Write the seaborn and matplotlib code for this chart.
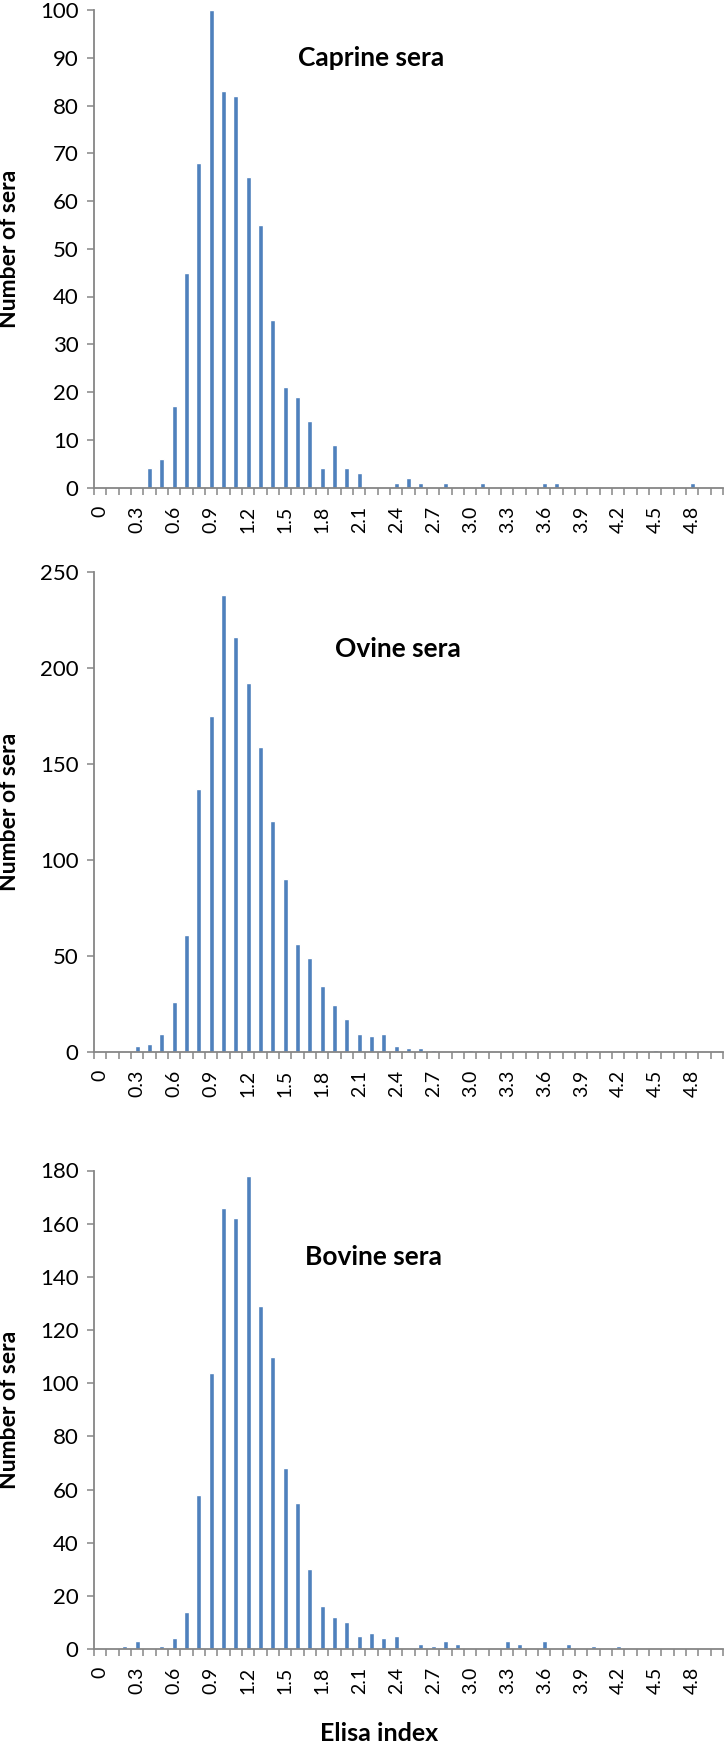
import numpy as np
import pandas as pd
import matplotlib.pyplot as plt
import seaborn as sns

# ELISA index classes (0.0 .. 5.0 step 0.1)
elisa_index = [0.0, 0.1, 0.2, 0.3, 0.4, 0.5, 0.6, 0.7, 0.8, 0.9,
               1.0, 1.1, 1.2, 1.3, 1.4, 1.5, 1.6, 1.7, 1.8, 1.9,
               2.0, 2.1, 2.2, 2.3, 2.4, 2.5, 2.6, 2.7, 2.8, 2.9,
               3.0, 3.1, 3.2, 3.3, 3.4, 3.5, 3.6, 3.7, 3.8, 3.9,
               4.0, 4.1, 4.2, 4.3, 4.4, 4.5, 4.6, 4.7, 4.8, 4.9,
               5.0]

caprine = [0, 0, 0, 0, 4, 6, 17, 45, 68, 100,
           83, 82, 65, 55, 35, 21, 19, 14, 4, 9,
           4, 3, 0, 0, 1, 2, 1, 0, 1, 0,
           0, 1, 0, 0, 0, 0, 1, 1, 0, 0,
           0, 0, 0, 0, 0, 0, 0, 0, 1, 0,
           0]

ovine = [0, 0, 0, 3, 4, 9, 26, 61, 137, 175,
         238, 216, 192, 159, 120, 90, 56, 49, 34, 24,
         17, 9, 8, 9, 3, 2, 2, 1, 0, 0,
         1, 0, 0, 0, 0, 0, 0, 0, 0, 0,
         0, 0, 0, 0, 0, 1, 0, 0, 0, 0,
         0]

bovine = [0, 0, 1, 3, 0, 1, 4, 14, 58, 104,
          166, 162, 178, 129, 110, 68, 55, 30, 16, 12,
          10, 5, 6, 4, 5, 0, 2, 1, 3, 2,
          0, 0, 0, 3, 2, 0, 3, 0, 2, 0,
          1, 0, 1, 0, 0, 0, 0, 0, 0, 0,
          0]

tick_labels = ["0", "0.3", "0.6", "0.9", "1.2", "1.5", "1.8", "2.1", "2.4",
               "2.7", "3.0", "3.3", "3.6", "3.9", "4.2", "4.5", "4.8"]

panels = [
    ("Caprine sera", caprine, 100, 10, (0.324, 0.90)),
    ("Ovine sera", ovine, 250, 50, (0.383, 0.839)),
    ("Bovine sera", bovine, 180, 20, (0.335, 0.82)),
]

sns.set_style("ticks")
plt.rcParams['font.family'] = ['Lato', 'DejaVu Sans']

W, H = 724, 1746
fig = plt.figure(figsize=(W / 100, H / 100), dpi=100)

# axes boxes in pixels: (top, bottom)
boxes = [(10, 487.5), (572, 1051.5), (1170.5, 1649)]
left_px, right_px = 94, 723

axis_color = "#868686"
bar_color = "#4F81BD"

for (title, counts, ymax, ystep, tpos), (top, bot) in zip(panels, boxes):
    ax = fig.add_axes([left_px / W, 1 - bot / H, (right_px - left_px) / W, (bot - top) / H])
    df = pd.DataFrame({"Elisa index": [f"{v:.1f}" for v in elisa_index], "count": counts})
    sns.barplot(data=df, x="Elisa index", y="count", color=bar_color,
                width=0.4, saturation=1, ax=ax)

    ax.set_xlim(-0.5, len(elisa_index) - 0.5)
    ax.set_ylim(0, ymax)
    ax.set_yticks(np.arange(0, ymax + 1, ystep))
    ax.tick_params(axis="y", labelsize=16, labelcolor="black", length=5, width=1.1,
                   color=axis_color, pad=6)

    ax.set_xticks(np.arange(0, len(elisa_index), 3))
    ax.set_xticklabels(tick_labels, rotation=90, fontsize=14, color="black")
    ax.set_xticks(np.arange(-0.5, len(elisa_index), 1), minor=True)
    ax.tick_params(axis="x", which="major", length=0, pad=13)
    ax.tick_params(axis="x", which="minor", length=5, width=1.1, color=axis_color)

    for s in ["top", "right"]:
        ax.spines[s].set_visible(False)
    for s in ["left", "bottom"]:
        ax.spines[s].set_color(axis_color)
        ax.spines[s].set_linewidth(1.3)

    ax.set_xlabel("")
    ax.set_ylabel("Number of sera", fontsize=16.5, fontweight="bold", color="black")
    ax.yaxis.set_label_coords(-0.118, 0.5)

    ax.text(tpos[0], tpos[1], title, transform=ax.transAxes, ha="left", va="center",
            fontsize=19, fontweight="bold", color="black")

fig.text(379 / W, 1 - 1722 / H, "Elisa index", ha="center", va="top",
         fontsize=18, fontweight="bold", color="black")

fig.savefig("out.png", dpi=100)
